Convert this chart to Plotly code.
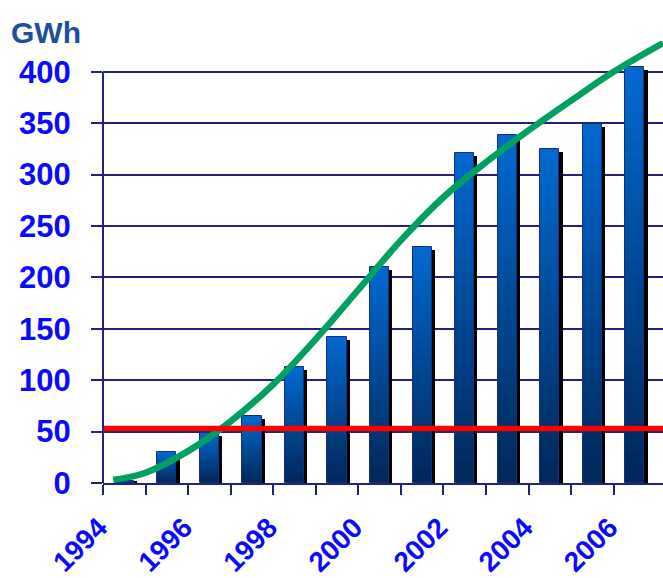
import plotly.graph_objects as go

# ---- data ----
years = list(range(1994, 2007))
gwh = [2, 30, 49, 65, 113, 142, 210, 230, 321, 339, 325, 349, 405]

trend_years = [1993.74, 1994.5, 1995.5, 1996.5, 1997.5, 1998.5, 1999.5,
               2000.5, 2001.5, 2002.5, 2003.5, 2004.5, 2005.5, 2006.66]
trend_gwh = [3, 10, 31, 60, 96, 140, 188, 236, 278, 312, 343, 372, 400, 428]

threshold = 53
y_ticks = [0, 50, 100, 150, 200, 250, 300, 350, 400]
x_label_years = [1994, 1996, 1998, 2000, 2002, 2004, 2006]

# ---- style ----
NAVY = "#22227a"
BLUE_TXT = "#0a0aff"
FONT = "Liberation Sans, Arial, sans-serif"
BAR_W = 0.45
TOP = (0, 104, 206)
BOT = (0, 40, 90)
N = 28

fig = go.Figure()

# shadow
fig.add_trace(go.Bar(
    x=years, y=[v - 3 if v > 3 else v for v in gwh], width=BAR_W,
    offset=-BAR_W / 2 + 0.075, marker=dict(color="black", line=dict(width=0)),
    hoverinfo="skip", showlegend=False))

# gradient faces (light top -> dark bottom)
for k in range(N):
    t = k / (N - 1)
    c = tuple(round(TOP[i] + (BOT[i] - TOP[i]) * t) for i in range(3))
    frac = 1 - k / N
    fig.add_trace(go.Bar(
        x=years, y=[v * frac for v in gwh], width=BAR_W, offset=-BAR_W / 2,
        marker=dict(color="rgb(%d,%d,%d)" % c, line=dict(width=0)),
        hoverinfo="skip", showlegend=False))

# outline
fig.add_trace(go.Bar(
    x=years, y=gwh, width=BAR_W, offset=-BAR_W / 2,
    marker=dict(color="rgba(0,0,0,0)", line=dict(color="#1a2a80", width=1)),
    showlegend=False, name="GWh"))

# trend curve
fig.add_trace(go.Scatter(
    x=trend_years, y=trend_gwh, mode="lines",
    line=dict(color="#00a060", width=6.5, shape="spline", smoothing=1.0),
    showlegend=False, cliponaxis=False))

# threshold line
fig.add_shape(type="line", xref="paper", x0=0, x1=1, yref="y",
              y0=threshold, y1=threshold, layer="above",
              line=dict(color="#ff0000", width=5.5))
# left axis line (only up to 400)
fig.add_shape(type="line", xref="paper", x0=0, x1=0, yref="y",
              y0=0, y1=y_ticks[-1], layer="above",
              line=dict(color=NAVY, width=2))

tickvals = [y - 0.5 for y in years]
ticktext = [str(y) if y in x_label_years else "" for y in years]

fig.update_layout(
    width=663, height=578,
    margin=dict(l=103, r=0, t=41, b=95),
    paper_bgcolor="white", plot_bgcolor="white",
    barmode="overlay", bargap=0,
    showlegend=False,
    xaxis=dict(
        range=[1993.5, 2006.66], tickmode="array",
        tickvals=tickvals, ticktext=ticktext, tickangle=-45,
        ticks="outside", ticklen=10, tickwidth=2, tickcolor=NAVY,
        showline=True, linecolor=NAVY, linewidth=2,
        showgrid=False, zeroline=False, automargin=False,
        ticklabelstandoff=5, ticklabelshift=-4,
        tickfont=dict(family=FONT, size=28, color=BLUE_TXT, weight="bold"),
    ),
    yaxis=dict(
        range=[0, 430], tickmode="array", tickvals=y_ticks,
        ticks="outside", ticklen=11, tickwidth=2, tickcolor=NAVY,
        showline=False, showgrid=True, gridcolor=NAVY, gridwidth=1.5,
        zeroline=False, ticklabelstandoff=14, automargin=False,
        tickfont=dict(family=FONT, size=31, color=BLUE_TXT, weight="bold"),
    ),
    annotations=[dict(
        text="GWh", xref="paper", yref="paper", x=0, xanchor="right",
        xshift=-20, y=1.02, yanchor="middle", showarrow=False,
        font=dict(family=FONT, size=30, color="#1f4e9c", weight="bold"))],
)

fig.write_html("out.html")
